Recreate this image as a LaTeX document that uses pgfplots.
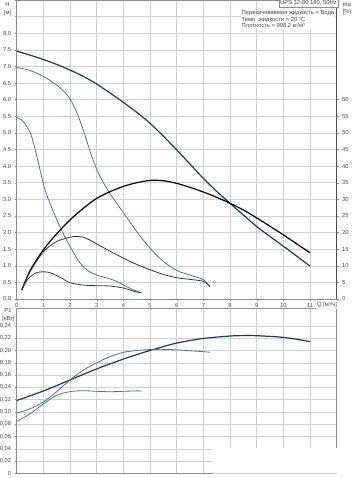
\documentclass[border=0pt]{standalone}
\usepackage{fontspec}
\setmainfont{Liberation Sans}
\usepackage{pgfplots}
\pgfplotsset{compat=1.18}
\definecolor{hblue}{HTML}{1B3A5A}
\definecolor{steel}{HTML}{50708E}
\definecolor{etad}{HTML}{333333}
\definecolor{gridc}{HTML}{CFCFCF}
\definecolor{axc}{HTML}{8C8C8C}
\definecolor{txt}{HTML}{444444}
\newcommand{\sm}{\fontsize{5.8}{6.6}\selectfont}
\pgfplotsset{
  base/.style={
    scale only axis, width=320pt, xmin=0, xmax=12,
    xtick={0,...,12},
    /pgf/number format/assume math mode=true,
    tick label style={font=\sm, text=txt},
    tick align=outside, major tick length=2pt,
    tick style={axc, line width=0.4pt},
    axis line style={axc, line width=0.5pt},
    major grid style={gridc, line width=0.45pt},
  }
}
\begin{document}
\begin{tikzpicture}
\path[use as bounding box] (0pt,0pt) rectangle (352pt,478pt);
% ---------- upper panel: H ----------
\begin{axis}[base, at={(16.7pt,179pt)}, anchor=south west, height=299pt,
  ymin=0, ymax=9, ytick={0,0.5,...,9},
  yticklabels={0.0,0.5,1.0,1.5,2.0,2.5,3.0,3.5,4.0,4.5,5.0,5.5,6.0,6.5,7.0,7.5,8.0,{},{}},
  xticklabels={0,1,2,3,4,5,6,7,8,9,10,11,{}},
  grid=major, xtick pos=bottom, ytick pos=left,
  x axis line style={black!75},
  xticklabel style={yshift=1pt}]
\addplot[hblue, line width=1.2pt, smooth] coordinates {
(0,7.46)(0.5,7.34)(1,7.21)(1.5,7.06)(2,6.89)(2.5,6.7)(3,6.47)(3.5,6.2)(4,5.92)(4.5,5.62)(5,5.29)(5.5,4.9)(6,4.49)(6.5,4.06)(7,3.63)(7.5,3.24)(8,2.88)(8.5,2.53)(9,2.18)(9.5,1.88)(10,1.59)(10.5,1.29)(11,0.99)};
\addplot[steel, line width=0.8pt, smooth] coordinates {
(0,6.97)(0.5,6.88)(1,6.7)(1.5,6.44)(1.8,6.22)(2,6.02)(2.25,5.62)(2.5,5.08)(2.75,4.45)(3,3.9)(3.25,3.5)(3.5,3.17)(4,2.6)(4.5,2.03)(5,1.53)(5.5,1.13)(6,0.86)(6.5,0.72)(7,0.58)(7.25,0.37)};
\addplot[steel, line width=0.8pt, smooth] coordinates {
(0,5.47)(0.25,5.34)(0.5,5.02)(0.62,4.72)(0.75,4.32)(0.87,3.9)(1,3.47)(1.12,3.15)(1.25,2.88)(1.43,2.52)(1.62,2.18)(1.8,1.88)(2,1.58)(2.2,1.3)(2.37,1.09)(2.55,0.93)(2.75,0.81)(3,0.72)(3.3,0.65)(3.62,0.57)(3.9,0.47)(4.12,0.37)(4.4,0.27)(4.65,0.19)};
\end{axis}
% ---------- upper panel: eta (right axis) ----------
\begin{axis}[base, at={(16.7pt,179pt)}, anchor=south west, height=299pt,
  ymin=0, ymax=90, ytick={0,5,...,60},
  axis x line=none, axis y line*=right, ytick pos=right,
  axis line style={black!70, line width=0.6pt}]
\addplot[black, line width=1.2pt, smooth] coordinates {
(0.19,2.7)(0.5,8.5)(1,14.8)(1.5,19.6)(2,23.8)(2.5,27.3)(3,30.3)(3.5,32.3)(4,33.9)(4.5,35.0)(5,35.7)(5.5,35.6)(6,34.8)(6.5,33.6)(7,32.2)(7.5,30.6)(8,28.8)(8.5,26.8)(9,24.4)(9.5,21.9)(10,19.3)(10.5,16.6)(11,13.9)};
\addplot[etad, line width=0.8pt, smooth] coordinates {
(0.19,2.7)(0.5,8.2)(1,14.2)(1.5,17.3)(2,18.6)(2.25,18.8)(2.5,18.6)(2.75,17.7)(3,16.6)(3.5,14.4)(4,12.3)(4.5,10.4)(5,8.8)(5.5,7.4)(6,6.4)(6.5,5.9)(7,5.3)(7.25,3.7)};
\addplot[etad, line width=0.8pt, smooth] coordinates {
(0.19,2.7)(0.4,5.8)(0.7,7.8)(1,8.2)(1.3,7.8)(1.7,6.2)(2,4.9)(2.5,4.2)(3,4.0)(3.5,3.9)(4,3.3)(4.4,2.3)(4.68,1.9)};
\end{axis}
% ---------- lower panel: P1 ----------
\begin{axis}[base, at={(16.7pt,4.7pt)}, anchor=south west, height=164.6pt,
  ymin=0, ymax=0.268, ytick={0,0.02,...,0.241},
  yticklabels={0,{0,02},{0,04},{0,06},{0,08},{0,10},{0,12},{0,14},{0,16},{0,18},{0,20},{0,22},{0,24}},
  xticklabels={}, x tick style={draw=none},
  grid=major, ytick pos=left, clip=false]
\addplot[hblue, line width=1.2pt, smooth] coordinates {
(0,0.1185)(1,0.134)(2,0.152)(3,0.170)(4,0.186)(5,0.200)(6,0.212)(7,0.2195)(8,0.2235)(8.5,0.2242)(9,0.224)(10,0.2213)(11,0.2145)};
\addplot[steel, line width=0.8pt, smooth] coordinates {
(0,0.098)(0.5,0.105)(1,0.116)(1.5,0.133)(2,0.152)(2.5,0.168)(3,0.180)(3.5,0.190)(4,0.197)(4.5,0.200)(5,0.2015)(5.5,0.2018)(6,0.201)(6.5,0.1995)(7,0.198)(7.25,0.197)};
\addplot[steel, line width=0.8pt, smooth] coordinates {
(0,0.0845)(0.5,0.097)(1,0.113)(1.5,0.127)(2,0.133)(2.5,0.1345)(3,0.1335)(3.5,0.1328)(4,0.1335)(4.5,0.1342)(4.68,0.134)};
\fill[white] (axis cs:7.36,-0.02) rectangle (axis cs:12.4,0.0405);
\draw[gridc, line width=0.45pt] (axis cs:7.36,0) -- (axis cs:12,0);
\end{axis}
% ---------- texts ----------
\node[font=\sm, text=txt] at (7.5pt,473pt) {H};
\node[font=\sm, text=txt] at (7.5pt,465pt) {[м]};
\node[font=\sm, text=txt] at (347pt,473pt) {eta};
\node[font=\sm, text=txt] at (347pt,465.5pt) {[\%]};
\node[font=\sm, text=txt] at (8pt,167pt) {P1};
\node[font=\sm, text=txt] at (8.5pt,159pt) {[кВт]};
\node[font=\sm, text=txt, fill=white, inner sep=1pt] at (327pt,173pt) {Q [м³/ч]};
\node[font=\sm, text=txt, draw=axc, fill=white, inner sep=1.2pt, anchor=north east] at (338pt,478.5pt) {UPS 32-80 180, 50Hz};
\node[font=\sm, text=txt, fill=white, inner sep=1pt, align=left, anchor=north west] at (240.5pt,468.5pt)
  {Перекачиваемая жидкость = Вода\\Темп. жидкости = 20 °C\\Плотность = 998.2 кг/м³};
\end{tikzpicture}
\end{document}
